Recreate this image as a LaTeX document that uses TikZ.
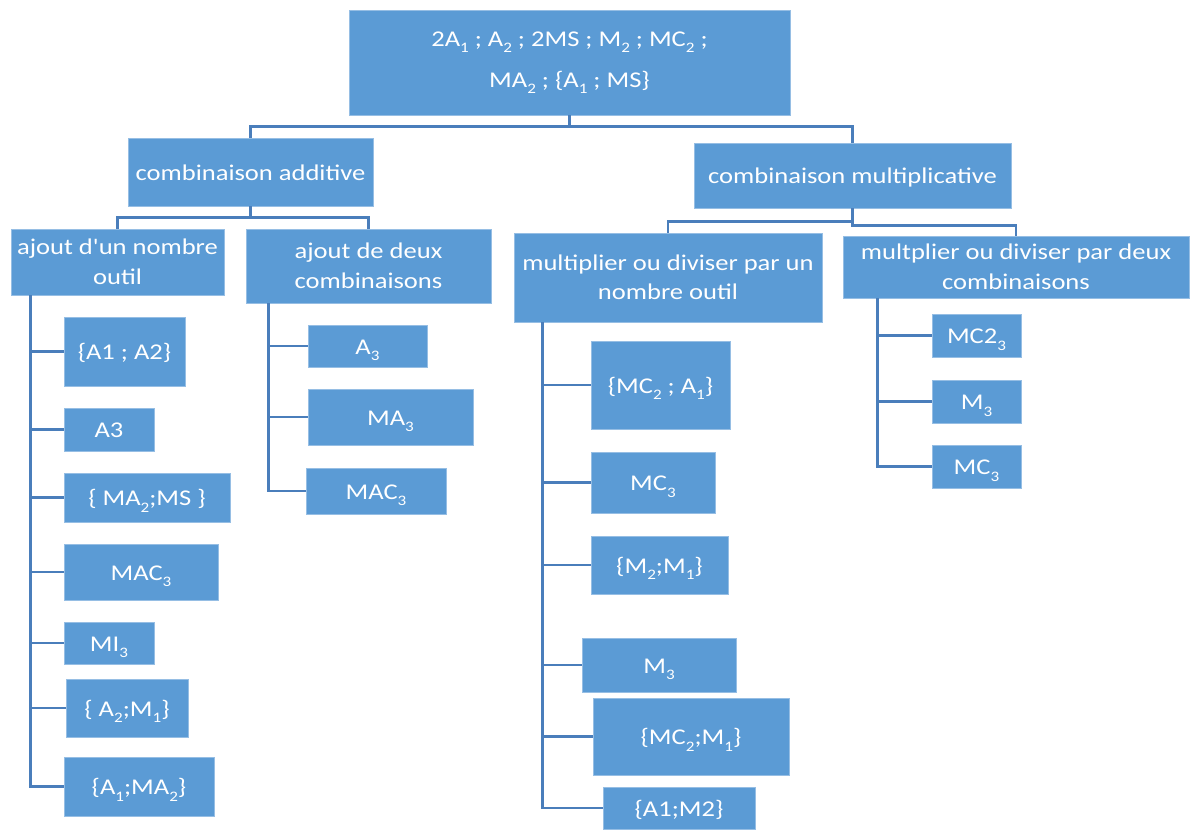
\documentclass[tikz,border=0pt]{standalone}
\usepackage{fontspec}
\setmainfont{Carlito}[FakeStretch=1.18,Ligatures=TeXOff]
\newcommand\lo[1]{\raisebox{-6.5pt}{\fontsize{14.5pt}{14.5pt}\selectfont #1}}
\definecolor{boxblue}{RGB}{91,155,213}
\definecolor{lineblue}{RGB}{74,126,187}
\definecolor{edgeblue}{RGB}{150,190,228}
\tikzset{
  box/.style={fill=boxblue,draw=edgeblue,line width=0.7pt,text=white,inner sep=0pt,
    font=\fontsize{22.5pt}{29.5pt}\selectfont,align=center},
  one/.style={text height=17pt,text depth=1pt},
  conn/.style={draw=lineblue,line width=2.8pt}
}
\begin{document}
\begin{tikzpicture}[x=1pt,y=-1pt]
\useasboundingbox[fill=white] (0,0) rectangle (1191,830);
% top level
\node[box,minimum width=441,minimum height=105,font=\fontsize{22.5pt}{41pt}\selectfont] (top) at (569.5,62.5)
  {2A\lo{1} ; A\lo{2} ; 2MS ; M\lo{2} ; MC\lo{2} ;\\MA\lo{2} ; \{A\lo{1} ; MS\}};
\node[box,one,minimum width=245,minimum height=68] (ca) at (250.5,172) {combinaison additive};
\node[box,one,minimum width=317,minimum height=65] (cm) at (852.5,175.5) {combinaison multiplicative};
\node[box,minimum width=213,minimum height=66] (a1) at (117.5,262) {ajout d'un nombre\\outil};
\node[box,minimum width=245,minimum height=74] (a2) at (368.5,266) {ajout de deux\\combinaisons};
\node[box,minimum width=308,minimum height=89] (m1) at (668,277.5) {multiplier ou diviser par un\\nombre outil};
\node[box,minimum width=346,minimum height=62] (m2) at (1016,267) {multplier ou diviser par deux\\combinaisons};
% ajout d'un nombre outil
\node[box,one,minimum width=121,minimum height=69] (c11) at (124.5,351.5) {\{A1 ; A2\}};
\node[box,one,minimum width=90,minimum height=43] (c12) at (109,429.5) {A3};
\node[box,one,minimum width=166,minimum height=49] (c13) at (147,497.5) {\{ MA\lo{2};MS \}};
\node[box,one,minimum width=154,minimum height=56] (c14) at (141,572) {MAC\lo{3}};
\node[box,one,minimum width=90,minimum height=42] (c15) at (109,643) {MI\lo{3}};
\node[box,one,minimum width=122,minimum height=58] (c16) at (127,708) {\{ A\lo{2};M\lo{1}\}};
\node[box,one,minimum width=150,minimum height=59] (c17) at (139,786.5) {\{A\lo{1};MA\lo{2}\}};
% ajout de deux combinaisons
\node[box,one,minimum width=119,minimum height=42] (d1) at (367.5,346) {A\lo{3}};
\node[box,one,minimum width=165,minimum height=56] (d2) at (390.5,417) {MA\lo{3}};
\node[box,one,minimum width=140,minimum height=46] (d3) at (376,491) {MAC\lo{3}};
% multiplier ... un nombre outil
\node[box,one,minimum width=139,minimum height=88] (e1) at (660.5,385) {\{MC\lo{2} ; A\lo{1}\}};
\node[box,one,minimum width=124,minimum height=61] (e2) at (653,482.5) {MC\lo{3}};
\node[box,one,minimum width=137,minimum height=58] (e3) at (659.5,565) {\{M\lo{2};M\lo{1}\}};
\node[box,one,minimum width=154,minimum height=54] (e4) at (659,665) {M\lo{3}};
\node[box,one,minimum width=196,minimum height=77] (e5) at (691,736.5) {\{MC\lo{2};M\lo{1}\}};
\node[box,one,minimum width=152,minimum height=42] (e6) at (679,808) {\{A1;M2\}};
% multplier ... deux combinaisons
\node[box,one,minimum width=89,minimum height=43] (f1) at (976.5,335.5) {MC2\lo{3}};
\node[box,one,minimum width=89,minimum height=43] (f2) at (976.5,401.5) {M\lo{3}};
\node[box,one,minimum width=89,minimum height=43] (f3) at (976.5,466.5) {MC\lo{3}};
% tree connectors
\draw[conn] (top.south) -- ++(0,11) -| (ca.north);
\draw[conn] (top.south) -- ++(0,11) -| (cm.north);
\draw[conn] (ca.south) -- ++(0,11) -| (a1.north);
\draw[conn] (ca.south) -- ++(0,11) -| (a2.north);
\draw[conn] (cm.south) -- ++(0,13) -| (m1.north);
\draw[conn] (cm.south) -- ++(0,17) -| (m2.north);
% list connectors
\foreach \c in {c11,c12,c13,c14,c15,c16,c17}
  \draw[conn] ([xshift=20pt]a1.south west) |- (\c.west);
\foreach \c in {d1,d2,d3}
  \draw[conn] ([xshift=23pt]a2.south west) |- (\c.west);
\foreach \c in {e1,e2,e3,e4,e5,e6}
  \draw[conn] ([xshift=29pt]m1.south west) |- (\c.west);
\foreach \c in {f1,f2,f3}
  \draw[conn] ([xshift=35pt]m2.south west) |- (\c.west);
\end{tikzpicture}
\end{document}
